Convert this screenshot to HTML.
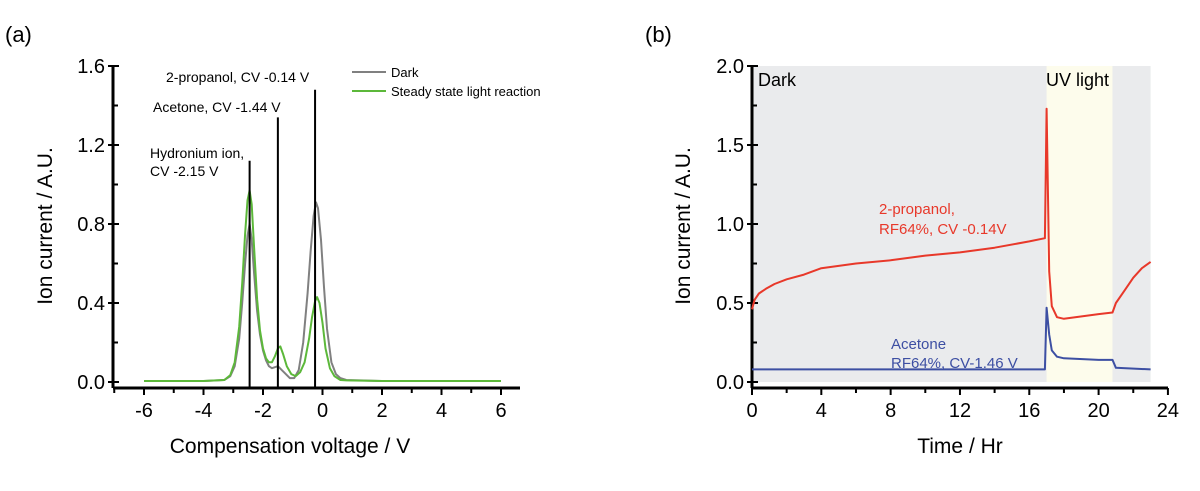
<!DOCTYPE html>
<html><head><meta charset="utf-8"><style>
body{margin:0;background:#fff;width:1200px;height:486px;overflow:hidden}
svg{font-family:"Liberation Sans",sans-serif}
</style></head><body>
<svg id="s" width="1200" height="486">
<text x="5" y="42" font-size="22">(a)</text>
<text x="645" y="42" font-size="22">(b)</text>
<g id="ga"></g>
<g id="gb"></g>
</svg>
<script>
// Panel (a) data
const aTicksX=[-6,-4,-2,0,2,4,6];
const aTicksY=[0,0.4,0.8,1.2,1.6];
const aTickLabelsY=["0.0","0.4","0.8","1.2","1.6"];
const darkCV=[-6,-4,-3.3,-3.1,-2.95,-2.8,-2.7,-2.6,-2.52,-2.45,-2.38,-2.3,-2.2,-2.1,-2.0,-1.9,-1.8,-1.7,-1.5,-1.3,-1.1,-0.95,-0.8,-0.65,-0.5,-0.4,-0.3,-0.22,-0.15,-0.05,0.05,0.15,0.3,0.45,0.6,0.8,2,4,6];
const darkVal=[0.005,0.005,0.01,0.03,0.08,0.22,0.4,0.6,0.74,0.8,0.72,0.55,0.36,0.24,0.16,0.11,0.08,0.07,0.08,0.05,0.02,0.02,0.06,0.2,0.45,0.66,0.84,0.91,0.88,0.72,0.48,0.27,0.1,0.04,0.02,0.01,0.005,0.005,0.005];
const lightCV=[-6,-4,-3.3,-3.1,-2.95,-2.8,-2.7,-2.6,-2.52,-2.45,-2.38,-2.3,-2.2,-2.1,-2.0,-1.9,-1.8,-1.7,-1.6,-1.5,-1.42,-1.32,-1.2,-1.05,-0.9,-0.75,-0.6,-0.45,-0.35,-0.25,-0.18,-0.1,0,0.1,0.25,0.4,0.6,0.8,2,4,6];
const lightVal=[0.005,0.005,0.01,0.035,0.1,0.28,0.5,0.75,0.92,0.97,0.9,0.68,0.42,0.26,0.17,0.12,0.1,0.1,0.13,0.17,0.18,0.14,0.08,0.04,0.03,0.05,0.1,0.22,0.33,0.41,0.43,0.4,0.3,0.17,0.07,0.03,0.01,0.008,0.005,0.005,0.005];
const markCV=[-2.45,-1.5,-0.25];
const markTop=[1.12,1.34,1.48];
// Panel (b) data
const bTicksX=[0,4,8,12,16,20,24];
const bTicksY=[0,0.5,1,1.5,2];
const bTickLabelsY=["0.0","0.5","1.0","1.5","2.0"];
const redT=[0,0.15,0.4,0.8,1.3,2,3,4,6,8,10,12,14,16,16.9,17,17.15,17.3,17.6,18,20,20.8,21,21.5,22,22.5,23];
const redV=[0.46,0.52,0.56,0.59,0.62,0.65,0.68,0.72,0.75,0.77,0.8,0.82,0.85,0.89,0.91,1.73,0.7,0.48,0.41,0.4,0.43,0.44,0.5,0.58,0.66,0.72,0.76];
const blueT=[0,4,8,12,16,16.9,17,17.15,17.3,17.6,18,20,20.8,21,23];
const blueV=[0.08,0.08,0.08,0.08,0.08,0.08,0.47,0.3,0.2,0.16,0.15,0.14,0.14,0.09,0.08];
const uvStart=17, uvEnd=20.8, tEnd=23;

const NS="http://www.w3.org/2000/svg";
function mk(p,tag,at,txt){const e=document.createElementNS(NS,tag);for(const k in at)e.setAttribute(k,at[k]);if(txt!==undefined)e.textContent=txt;p.appendChild(e);return e;}

const ax=v=>322.5+v*29.75, ay=v=>382-v*197.5;
const bx=v=>752+v*17.33, by=v=>382-v*158;
const ga=document.getElementById('ga'), gb=document.getElementById('gb');

function axes(g,xf,yf,tx,ty,tly,minorX,minorY,x0,x1,y0,y1,xTitle,yTitle,yTx,xCenter){
  let e=mk(g,'line',{x1:x0,y1:388,x2:x1,y2:388,stroke:'#000','stroke-width':3});
  
  
  e=mk(g,'line',{x1:x0,y1:388,x2:x0,y2:y1,stroke:'#000','stroke-width':3});
  
  
  minorX.forEach(v=>{mk(g,'line',{x1:xf(v),y1:388,x2:xf(v),y2:393,stroke:'#000','stroke-width':2});});
  tx.forEach(v=>{mk(g,'line',{x1:xf(v),y1:388,x2:xf(v),y2:395,stroke:'#000','stroke-width':2});
    e=mk(g,'text',{x:xf(v),y:417,'font-size':20,'text-anchor':'middle'},String(v));
    
    });
  minorY.forEach(v=>{mk(g,'line',{x1:x0,y1:yf(v),x2:x0+5,y2:yf(v),stroke:'#000','stroke-width':2});});
  ty.forEach((v,i)=>{mk(g,'line',{x1:x0-5,y1:yf(v),x2:x0+6,y2:yf(v),stroke:'#000','stroke-width':2});
    e=mk(g,'text',{x:x0-8,y:yf(v)+7,'font-size':20,'text-anchor':'end'},tly[i]);
    
    });
  e=mk(g,'text',{x:xCenter,y:453,'font-size':21,'text-anchor':'middle'},xTitle);
  
  
  e=mk(g,'text',{x:0,y:0,'font-size':21,'text-anchor':'middle',transform:`translate(${yTx},226) rotate(-90)`},yTitle);
  
  
}
function path(g,xs,ys,xf,yf,col,w,name){
  const d=xs.map((x,i)=>(i?'L':'M')+xf(x).toFixed(1)+','+yf(ys[i]).toFixed(1)).join('');
  const e=mk(g,'path',{d:d,fill:'none',stroke:col,'stroke-width':w,'stroke-linejoin':'round'});
  
  
}
let r=mk(gb,'rect',{x:bx(0),y:by(2),width:bx(tEnd)-bx(0),height:by(0)-by(2),fill:'#eaebed'});


r=mk(gb,'rect',{x:bx(uvStart),y:by(2),width:bx(uvEnd)-bx(uvStart),height:by(0)-by(2),fill:'#fdfcec'});



axes(ga,ax,ay,aTicksX,aTicksY,aTickLabelsY,[-7,-5,-3,-1,1,3,5],[0.2,0.6,1.0,1.4],113,520,388,66,'Compensation voltage / V','Ion current / A.U.',52,290);
axes(gb,bx,by,bTicksX,bTicksY,bTickLabelsY,[2,6,10,14,18,22],[0.25,0.75,1.25,1.75],752,1168,388,66,'Time / Hr','Ion current / A.U.',690,960);

path(ga,darkCV,darkVal,ax,ay,'#808080',2,'dark-series');
path(ga,lightCV,lightVal,ax,ay,'#5cb83a',2,'light-series');
markCV.forEach((v,i)=>{const e=mk(ga,'line',{x1:ax(v),y1:ay(0)+6,x2:ax(v),y2:ay(markTop[i]),stroke:'#000','stroke-width':2});
  
  });
const ann=[["2-propanol, CV -0.14 V",166,82],["Acetone, CV -1.44 V",153,112],["Hydronium ion,",150,158],["CV -2.15 V",150,176]];
ann.forEach(a=>{const e=mk(ga,'text',{x:a[1],y:a[2],'font-size':14},a[0]);
  
  });
[['Dark','#808080',72],['Steady state light reaction','#5cb83a',91]].forEach(l=>{
  let e=mk(ga,'line',{x1:352,y1:l[2],x2:386,y2:l[2],stroke:l[1],'stroke-width':2});
  
  
  e=mk(ga,'text',{x:391,y:l[2]+5,'font-size':13},l[0]);
  
  });

path(gb,redT,redV,bx,by,'#e8382a',2,'2-propanol-series');
path(gb,blueT,blueV,bx,by,'#3d4fa3',2,'acetone-series');
[["Dark",758,86,'#000',18,'dark-label'],["UV light",1046,86,'#000',18,'uv-label'],
 ["2-propanol,",879,214,'#e8382a',15,'propanol-label'],["RF64%, CV -0.14V",879,234,'#e8382a',15,'propanol-label'],
 ["Acetone",891,349,'#3d4fa3',15,'acetone-label'],["RF64%, CV-1.46 V",891,368,'#3d4fa3',15,'acetone-label']].forEach(a=>{
  const e=mk(gb,'text',{x:a[1],y:a[2],fill:a[3],'font-size':a[4]},a[0]);
  
  });
</script>
</body></html>
